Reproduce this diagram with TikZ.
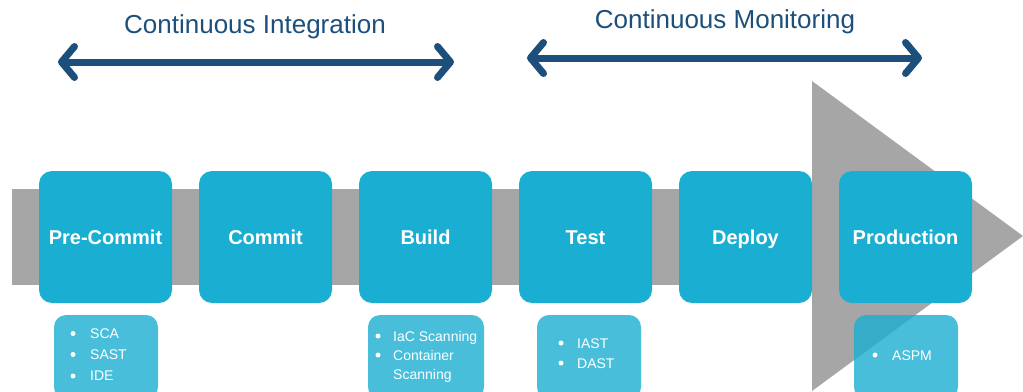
\documentclass[tikz,border=0pt]{standalone}
\usepackage{fontspec}
\setmainfont{Liberation Sans}
\usetikzlibrary{arrows.meta}
\definecolor{boxblue}{HTML}{1AAED2}
\definecolor{navy}{HTML}{1C4F7B}
\definecolor{bargrey}{HTML}{A6A6A6}
\tikzset{
  mainbox/.style={fill=boxblue, draw=none, rounded corners=13pt, minimum width=133pt, minimum height=132pt,
    text=white, font=\fontsize{20}{24}\selectfont\bfseries, inner sep=0pt, text height=14.5pt, text depth=0pt},
  subbox/.style={fill=boxblue, fill opacity=0.8, draw=none, rounded corners=12pt, minimum height=84pt, inner sep=0pt},
  item/.style={anchor=base west, inner sep=0pt, text=white, font=\fontsize{14}{16}\selectfont},
  dot/.style={circle, fill=white, inner sep=0pt, minimum size=5pt},
  title/.style={text=navy, font=\fontsize{26}{30}\selectfont},
  span/.style={draw=navy, line width=7pt, line cap=round,
    {Straight Barb[round,length=13pt,width=31pt]}-{Straight Barb[round,length=13pt,width=31pt]}}
}
\begin{document}
\begin{tikzpicture}[x=1pt,y=-1pt]
\useasboundingbox (0,0) rectangle (1023,391);
\clip (0,0) rectangle (1023,391);
% big grey arrow
\fill[bargrey] (12,189) rectangle (812,285);
\fill[bargrey] (812,81) -- (1023,236) -- (812,391) -- cycle;
% titles and spans
\node[title] (ci) at (255,27) {Continuous Integration};
\node[title] (cm) at (725,22) {Continuous Monitoring};
\coordinate (ciL) at (58,62);
\coordinate (ciR) at (454,62);
\coordinate (cmL) at (527,58);
\coordinate (cmR) at (922,58);
\draw[span] (ciL) -- (ciR);
\draw[span] (cmL) -- (cmR);
% stage boxes
\node[mainbox] (pre) at (105.5,237) {Pre-Commit};
\node[mainbox] (com) at (265.5,237) {Commit};
\node[mainbox] (bui) at (425.5,237) {Build};
\node[mainbox] (tes) at (585.5,237) {Test};
\node[mainbox] (dep) at (745.5,237) {Deploy};
\node[mainbox] (pro) at (905.5,237) {Production};
% sub boxes
\node[subbox, minimum width=104pt] (sPre) at (106,357) {};
\node[subbox, minimum width=116pt] (sBui) at (426,357) {};
\node[subbox, minimum width=104pt] (sTes) at (589,357) {};
\node[subbox, minimum width=104pt] (sPro) at (906,357) {};
% items
\node[dot] (d1) at (73,333.5) {}; \node[item] (t1) at (90,338) {SCA};
\node[dot] (d2) at (73,354.5) {}; \node[item] (t2) at (90,359) {SAST};
\node[dot] (d3) at (73,376) {};   \node[item] (t3) at (90,380.5) {IDE};
\node[dot] (d4) at (378,336) {}; \node[item] (t4) at (393,341) {IaC Scanning};
\node[dot] (d5) at (378,355) {}; \node[item] (t5) at (393,360) {Container};
\node[item] (t6) at (393,379) {Scanning};
\node[dot] (d7) at (561,343) {}; \node[item] (t7) at (577,348) {IAST};
\node[dot] (d8) at (561,363) {}; \node[item] (t8) at (577,368) {DAST};
\node[dot] (d9) at (875,355) {}; \node[item] (t9) at (892,360) {ASPM};
\end{tikzpicture}
\end{document}
